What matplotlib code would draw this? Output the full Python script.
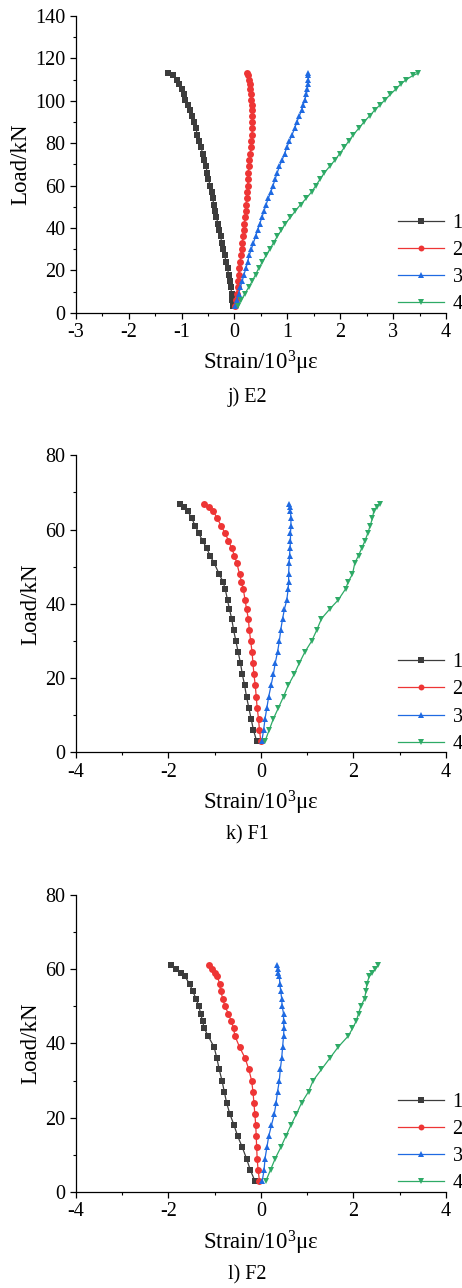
"""Load-strain curves for specimens E2, F1 and F2 (gauges 1-4)."""

import matplotlib
matplotlib.use("Agg")
import matplotlib.pyplot as plt
from matplotlib.ticker import MultipleLocator

plt.rcParams["font.family"] = ["Liberation Serif", "DejaVu Serif"]
plt.rcParams["mathtext.fontset"] = "custom"
plt.rcParams["mathtext.rm"] = "Liberation Serif"
plt.rcParams["mathtext.it"] = "Liberation Serif:italic"
plt.rcParams["axes.unicode_minus"] = False

# ---- data (strain in 10^3 με, load in kN) ----
load_E2 = [3, 6, 9, 12, 15, 18, 21, 24, 27, 30, 33, 36, 39, 42, 45, 48, 51, 54,
           57, 60, 63, 66, 69, 72, 75, 78, 81, 84, 87, 90, 93, 95.5, 98, 100.5,
           103, 105.5, 108, 110, 112, 113]
E2_g1 = [-0.02, -0.04, -0.05, -0.07, -0.09, -0.11, -0.13, -0.16, -0.18, -0.21,
         -0.24, -0.26, -0.29, -0.31, -0.34, -0.37, -0.39, -0.41, -0.43, -0.46,
         -0.49, -0.51, -0.54, -0.57, -0.60, -0.63, -0.67, -0.71, -0.72, -0.76,
         -0.80, -0.84, -0.88, -0.93, -0.96, -1.00, -1.04, -1.09, -1.17, -1.26]
E2_g2 = [0.01, 0.03, 0.04, 0.06, 0.07, 0.08, 0.09, 0.11, 0.12, 0.14,
         0.15, 0.16, 0.18, 0.19, 0.20, 0.21, 0.22, 0.23, 0.24, 0.25,
         0.255, 0.26, 0.275, 0.285, 0.30, 0.31, 0.32, 0.33, 0.34, 0.34,
         0.34, 0.335, 0.33, 0.32, 0.31, 0.30, 0.29, 0.27, 0.25, 0.23]
E2_g3 = [0.02, 0.05, 0.08, 0.11, 0.15, 0.18, 0.22, 0.25, 0.28, 0.32,
         0.36, 0.40, 0.44, 0.48, 0.52, 0.56, 0.60, 0.64, 0.69, 0.73,
         0.77, 0.81, 0.85, 0.90, 0.95, 0.99, 1.04, 1.09, 1.14, 1.18,
         1.23, 1.27, 1.30, 1.33, 1.36, 1.38, 1.39, 1.40, 1.40, 1.40]
E2_g4 = [0.07, 0.13, 0.20, 0.27, 0.34, 0.40, 0.46, 0.53, 0.60, 0.67,
         0.74, 0.81, 0.89, 0.96, 1.06, 1.15, 1.25, 1.36, 1.46, 1.54,
         1.62, 1.70, 1.80, 1.90, 1.99, 2.08, 2.16, 2.25, 2.35, 2.45,
         2.56, 2.65, 2.75, 2.85, 2.95, 3.05, 3.15, 3.25, 3.38, 3.48]

load_F1 = [3, 6, 9, 12, 15, 18, 21, 24, 27, 30, 33, 36, 38.6, 41, 44, 46, 48,
           51, 53, 55, 57, 59, 61, 63, 65, 66, 67]
F1_g1 = [-0.09, -0.16, -0.21, -0.26, -0.31, -0.35, -0.40, -0.44, -0.49, -0.54,
         -0.59, -0.63, -0.68, -0.72, -0.77, -0.82, -0.90, -1.01, -1.10, -1.17,
         -1.26, -1.34, -1.42, -1.49, -1.58, -1.67, -1.75]
F1_g2 = [0.00, -0.03, -0.05, -0.08, -0.10, -0.12, -0.15, -0.17, -0.19, -0.22,
         -0.25, -0.27, -0.31, -0.34, -0.38, -0.42, -0.46, -0.52, -0.57, -0.63,
         -0.70, -0.77, -0.86, -0.94, -1.03, -1.11, -1.22]
F1_g3 = [0.02, 0.06, 0.09, 0.13, 0.17, 0.22, 0.27, 0.31, 0.36, 0.40,
         0.43, 0.47, 0.51, 0.56, 0.59, 0.60, 0.60, 0.61, 0.62, 0.63,
         0.64, 0.64, 0.65, 0.65, 0.64, 0.62, 0.60]
F1_g4 = [0.09, 0.18, 0.27, 0.38, 0.49, 0.59, 0.72, 0.83, 0.95, 1.10,
         1.21, 1.31, 1.49, 1.67, 1.83, 1.89, 1.98, 2.03, 2.11, 2.18,
         2.25, 2.31, 2.36, 2.41, 2.44, 2.50, 2.57]

load_F2 = [3, 6, 9, 12, 15, 18, 21, 24, 27, 30, 33, 36, 39, 42, 44, 46, 48,
           50, 52, 54, 56, 58, 59, 60, 61]
F2_g1 = [-0.13, -0.23, -0.31, -0.40, -0.50, -0.58, -0.67, -0.74, -0.79, -0.84,
         -0.90, -0.95, -1.01, -1.14, -1.22, -1.26, -1.30, -1.34, -1.40, -1.47,
         -1.54, -1.64, -1.73, -1.83, -1.95]
F2_g2 = [-0.03, -0.06, -0.08, -0.09, -0.10, -0.11, -0.13, -0.15, -0.17, -0.20,
         -0.26, -0.34, -0.46, -0.56, -0.59, -0.64, -0.70, -0.78, -0.82, -0.87,
         -0.89, -0.94, -0.99, -1.05, -1.11]
F2_g3 = [0.03, 0.07, 0.09, 0.13, 0.17, 0.23, 0.29, 0.33, 0.36, 0.40,
         0.42, 0.45, 0.47, 0.49, 0.50, 0.49, 0.49, 0.46, 0.45, 0.43,
         0.41, 0.40, 0.38, 0.36, 0.34]
F2_g4 = [0.11, 0.21, 0.31, 0.43, 0.54, 0.65, 0.77, 0.88, 1.03, 1.13,
         1.31, 1.49, 1.67, 1.89, 1.98, 2.06, 2.11, 2.16, 2.24, 2.27,
         2.29, 2.34, 2.41, 2.47, 2.54]

labels = ["1", "2", "3", "4"]
colors = ["#3c3c3c", "#ee3535", "#1f6ae2", "#2eaa66"]
markers = ["s", "o", "^", "v"]

panels = [
    (load_E2, [E2_g1, E2_g2, E2_g3, E2_g4], (-3, 4), 1, (0, 140), "j) E2"),
    (load_F1, [F1_g1, F1_g2, F1_g3, F1_g4], (-4, 4), 2, (0, 80), "k) F1"),
    (load_F2, [F2_g1, F2_g2, F2_g3, F2_g4], (-4, 4), 2, (0, 80), "l) F2"),
]

W, H = 462, 1288
fig = plt.figure(figsize=(W / 100, H / 100), dpi=100)

# axes boxes in pixels: left, top, right, bottom
boxes = [(75.7, 16.0, 446.0, 312.7),
         (75.7, 455.3, 446.0, 752.3),
         (75.7, 894.7, 446.0, 1192.0)]
captions_y = [397, 835, 1275]

for (load, gauges, xlim, xstep, ylim, cap), box, cy in zip(panels, boxes, captions_y):
    l, t, r, b = box
    ax = fig.add_axes([l / W, 1 - b / H, (r - l) / W, (b - t) / H])
    for g, lab, c, m in zip(gauges, labels, colors, markers):
        ax.plot(g, load, color=c, marker=m, ms=5, lw=0.9, label=lab,
                markeredgewidth=0)
    ax.set_xlim(*xlim)
    ax.set_ylim(*ylim)
    ax.xaxis.set_major_locator(MultipleLocator(xstep))
    ax.xaxis.set_minor_locator(MultipleLocator(xstep / 2))
    ax.yaxis.set_major_locator(MultipleLocator(20))
    ax.yaxis.set_minor_locator(MultipleLocator(10))
    for s in ("top", "right"):
        ax.spines[s].set_visible(False)
    for s in ("left", "bottom"):
        ax.spines[s].set_linewidth(0.9)
    ax.tick_params(which="major", direction="out", length=4.5, width=0.9,
                   labelsize=14.5, pad=3)
    ax.tick_params(which="minor", direction="out", length=2.5, width=0.8)
    ax.set_ylabel("Load/kN", fontsize=16.5, labelpad=3)
    ax.set_xlabel("Strain/10$^{3}$με", fontsize=16.5, labelpad=5)
    ax.legend(loc="lower right", bbox_to_anchor=(1.045, -0.005), frameon=False,
              fontsize=14.5, handlelength=2.3, handletextpad=0.4,
              labelspacing=0.4, borderaxespad=0, borderpad=0, markerscale=0.85)
    fig.text(247 / W, 1 - cy / H, cap, ha="center", va="center", fontsize=14.5)

fig.savefig("out.png", dpi=100)
